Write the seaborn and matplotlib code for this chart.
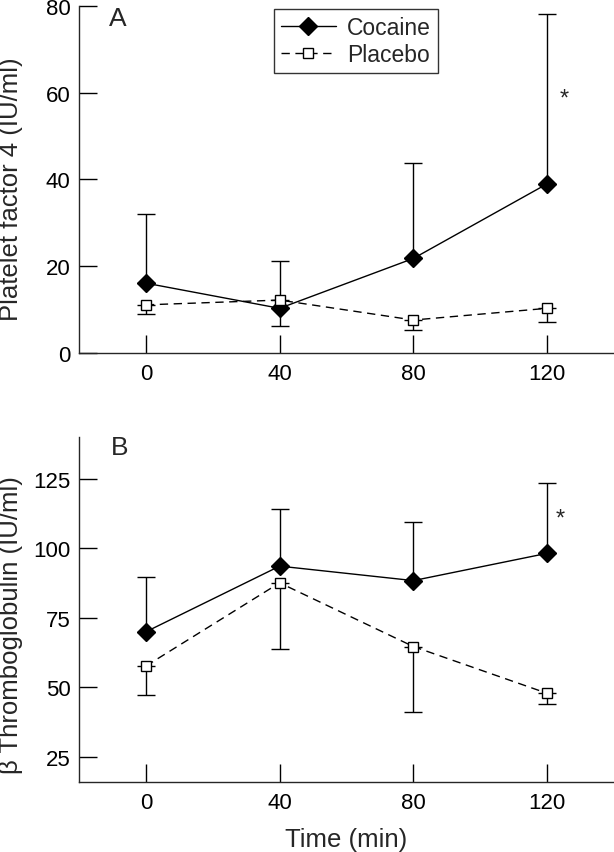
import numpy as np
import pandas as pd
import matplotlib
matplotlib.use("Agg")
import matplotlib.pyplot as plt
import seaborn as sns

# ── data ─────────────────────────────────────────────────
time_min = [0, 40, 80, 120]

pf4_cocaine = [16.1, 10.3, 21.8, 39.0]
pf4_cocaine_hi = [32.1, 21.2, 43.8, 78.2]
pf4_placebo = [11.1, 12.2, 7.6, 10.3]
pf4_placebo_lo = [9.1, 6.2, 5.3, 7.2]

btg_cocaine = [70.0, 93.6, 88.4, 98.2]
btg_cocaine_hi = [89.6, 114.0, 109.3, 123.6]
btg_placebo = [57.7, 87.6, 64.7, 47.9]
btg_placebo_lo = [47.2, 63.8, 41.1, 44.2]

pf4_ticks = [0, 20, 40, 60, 80]
btg_ticks = [25, 50, 75, 100, 125]
x_ticks = [0, 40, 80, 120]

sns.set_style("ticks")
plt.rcParams["font.family"] = ["Liberation Sans", "DejaVu Sans"]
plt.rcParams["axes.linewidth"] = 1.0

fig = plt.figure(figsize=(6.14, 8.53), dpi=100)
ax_a = fig.add_axes([0.1287, 0.585, 0.8713, 0.4068])
ax_b = fig.add_axes([0.1287, 0.082, 0.8713, 0.4045])


def draw_panel(ax, coc, coc_hi, pla, pla_lo, legend=False):
    coc = np.array(coc)
    pla = np.array(pla)
    # one-sided error bars: cocaine up, placebo down
    ax.errorbar(time_min, coc, yerr=[np.zeros(4), np.array(coc_hi) - coc],
                fmt="none", ecolor="black", elinewidth=1.0, capsize=6.5,
                capthick=1.0, zorder=1)
    ax.errorbar(time_min, pla, yerr=[pla - np.array(pla_lo), np.zeros(4)],
                fmt="none", ecolor="black", elinewidth=1.0, capsize=6.5,
                capthick=1.0, zorder=1)
    sns.lineplot(x=time_min, y=coc, ax=ax, color="black", lw=1.0,
                 marker="D", ms=9, mfc="black", mec="black", mew=1.0,
                 label="Cocaine", zorder=3)
    sns.lineplot(x=time_min, y=pla, ax=ax, color="black", lw=1.0,
                 linestyle=(0, (6, 4)), marker="s", ms=7.5, mfc="white",
                 mec="black", mew=1.0, label="Placebo", zorder=4)
    if legend:
        leg = ax.legend(loc="upper left", bbox_to_anchor=(0.364, 0.992),
                        borderaxespad=0, fontsize=16.5, frameon=True,
                        fancybox=False, edgecolor="black", handlelength=2.4,
                        borderpad=0.3, labelspacing=0.2, handletextpad=0.5)
        leg.get_frame().set_linewidth(1.0)
    else:
        ax.get_legend().remove()

    ax.set_xlim(-20, 140)
    ax.set_xticks(x_ticks)
    ax.tick_params(direction="in", length=13, width=1.0, labelsize=16,
                   colors="black")
    ax.tick_params(axis="x", pad=7)
    ax.tick_params(axis="y", pad=6)
    sns.despine(ax=ax)


draw_panel(ax_a, pf4_cocaine, pf4_cocaine_hi, pf4_placebo, pf4_placebo_lo,
           legend=True)
ax_a.set_ylim(0, 80)
ax_a.set_yticks(pf4_ticks)
ax_a.set_ylabel("Platelet factor 4 (IU/ml)", fontsize=18.5)
ax_a.yaxis.set_label_coords(-0.104, 0.475)
ax_a.text(0.072, 0.965, "A", transform=ax_a.transAxes, fontsize=19,
          ha="center", va="center")
ax_a.text(125, 58.6, "*", fontsize=17, ha="center", va="center")

draw_panel(ax_b, btg_cocaine, btg_cocaine_hi, btg_placebo, btg_placebo_lo)
ax_b.set_ylim(16, 140)
ax_b.set_yticks(btg_ticks)
ax_b.set_ylabel("β Thromboglobulin (IU/ml)", fontsize=18.5)
ax_b.yaxis.set_label_coords(-0.104, 0.458)
ax_b.set_xlabel("Time (min)", fontsize=18.5, labelpad=10)
ax_b.text(0.075, 0.97, "B", transform=ax_b.transAxes, fontsize=19,
          ha="center", va="center")
ax_b.text(124, 110.7, "*", fontsize=17, ha="center", va="center")

fig.savefig("out.png", dpi=100)
